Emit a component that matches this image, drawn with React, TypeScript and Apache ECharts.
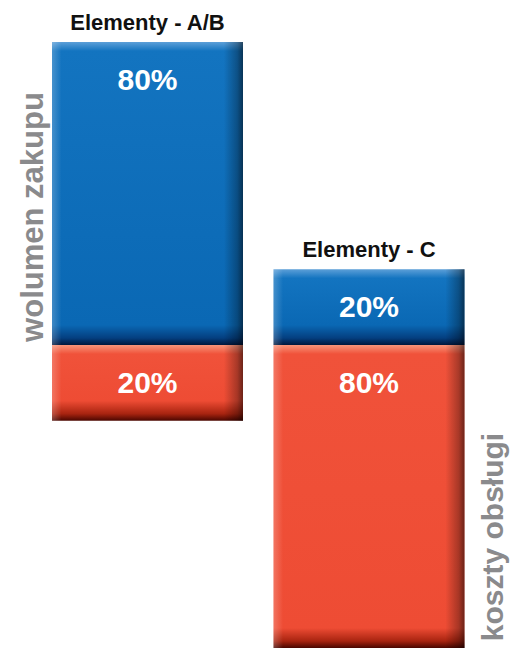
import React, { useEffect, useRef } from "react";
import * as echarts from "echarts";

const categories = ["Elementy - A/B", "Elementy - C"];
const volumeShare = [80, 20]; // wolumen zakupu (blue, above the line)
const costShare = [20, 80]; // koszty obsługi (red, below the line)
const axisMax = 160;

const W = 511;
const H = 648;
const GRID_TOP = 42;
const PX_PER_UNIT = (H - GRID_TOP) / axisMax;

const FONT = "'Liberation Sans', Arial, Helvetica, sans-serif";

function vGrad(value: number, top: string, mid: string, mid2: string, dark: string, deep: string) {
  const h = value * PX_PER_UNIT;
  const t = Math.min(0.4, 9 / h);
  const b = Math.max(0.6, 1 - 20 / h);
  const b2 = Math.max(b + 0.01, 1 - 7 / h);
  return new echarts.graphic.LinearGradient(0, 0, 0, 1, [
    { offset: 0, color: top },
    { offset: t, color: mid },
    { offset: b, color: mid2 },
    { offset: b2, color: dark },
    { offset: 1, color: deep },
  ]);
}

const hShade = new echarts.graphic.LinearGradient(0, 0, 1, 0, [
  { offset: 0, color: "rgba(255,255,255,0.22)" },
  { offset: 0.05, color: "rgba(255,255,255,0)" },
  { offset: 0.9, color: "rgba(0,0,0,0)" },
  { offset: 0.97, color: "rgba(0,0,0,0.3)" },
  { offset: 1, color: "rgba(0,0,0,0.55)" },
]);

export default function App() {
  const ref = useRef<HTMLDivElement>(null);

  useEffect(() => {
    if (!ref.current) return;
    const chart = echarts.init(ref.current, undefined, { renderer: "svg" });
    const maxVol = Math.max(...volumeShare);
    const offsets = volumeShare.map((v) => maxVol - v);

    const blueData = volumeShare.map((v) => ({
      value: v,
      itemStyle: { color: vGrad(v, "#5c9fd8", "#1374c0", "#0a68b4", "#043f80", "#00173c") },
    }));
    const redData = costShare.map((v) => ({
      value: v,
      itemStyle: { color: vGrad(v, "#f8957a", "#f0523a", "#ee4c34", "#a82410", "#4a0600") },
    }));

    const pctLabel = {
      show: true,
      position: "insideTop" as const,
      distance: 22,
      color: "#ffffff",
      fontFamily: FONT,
      fontWeight: "bold" as const,
      fontSize: 30,
      formatter: "{c}%",
    };

    chart.setOption({
      animation: false,
      grid: { left: 36.75, right: W - 479.75, top: GRID_TOP, bottom: 0 },
      xAxis: { type: "category", data: categories, show: false },
      yAxis: { type: "value", min: 0, max: axisMax, inverse: true, show: false },
      series: [
        {
          type: "bar",
          stack: "main",
          barWidth: 191,
          data: offsets,
          itemStyle: { color: "rgba(0,0,0,0)" },
          silent: true,
        },
        { type: "bar", stack: "main", barWidth: 191, data: blueData },
        { type: "bar", stack: "main", barWidth: 191, data: redData },
        {
          type: "bar",
          stack: "shade",
          barWidth: 191,
          barGap: "-100%",
          data: offsets,
          itemStyle: { color: "rgba(0,0,0,0)" },
          silent: true,
        },
        {
          type: "bar",
          stack: "shade",
          barWidth: 191,
          barGap: "-100%",
          data: volumeShare,
          itemStyle: { color: hShade },
          label: pctLabel,
          silent: true,
        },
        {
          type: "bar",
          stack: "shade",
          barWidth: 191,
          barGap: "-100%",
          data: costShare,
          itemStyle: { color: hShade },
          label: pctLabel,
          silent: true,
        },
        {
          type: "scatter",
          data: offsets.map((o, i) => [i, o]),
          symbolSize: 1,
          itemStyle: { color: "rgba(0,0,0,0)", opacity: 1 },
          z: 5,
          label: {
            show: true,
            position: "top",
            distance: 8,
            formatter: (p: any) => categories[p.dataIndex],
            color: "#111111",
            opacity: 1,
            fontFamily: FONT,
            fontWeight: "bold",
            fontSize: 22,
          },
        },
      ],
      graphic: [
        {
          type: "text",
          x: 32,
          y: 217,
          rotation: Math.PI / 2,
          style: {
            text: "wolumen zakupu",
            font: `bold 31px ${FONT}`,
            fill: "#8a8a8c",
            align: "center",
            verticalAlign: "middle",
          },
        },
        {
          type: "text",
          x: 492,
          y: 537,
          rotation: Math.PI / 2,
          style: {
            text: "koszty obsługi",
            font: `bold 30px ${FONT}`,
            fill: "#8a8a8c",
            align: "center",
            verticalAlign: "middle",
          },
        },
      ],
    });
    return () => chart.dispose();
  }, []);

  return (
    <div
      ref={ref}
      style={{ position: "fixed", left: 0, top: 0, width: W, height: H, background: "#ffffff" }}
    />
  );
}
